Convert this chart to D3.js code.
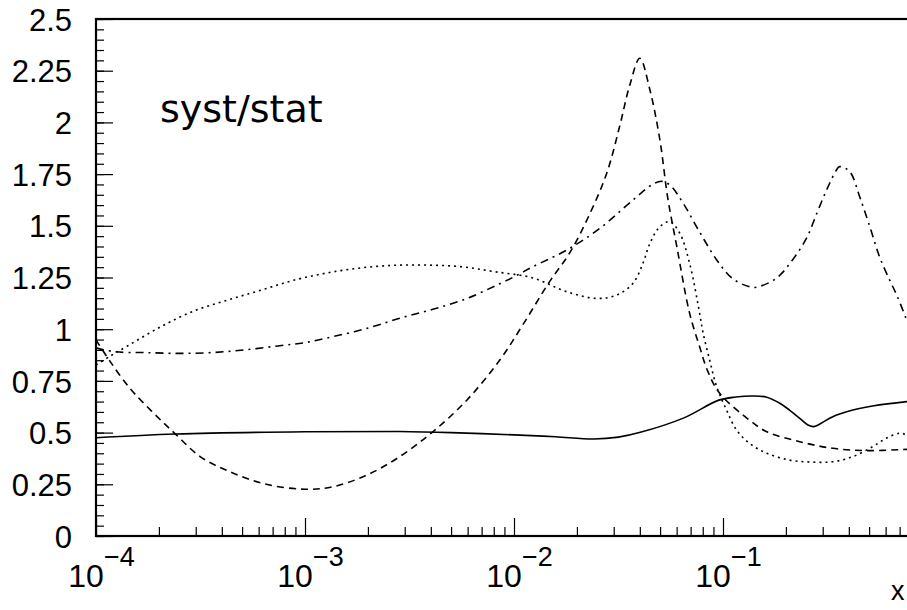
<!DOCTYPE html>
<html>
<head>
<meta charset="utf-8">
<script src="https://cdn.jsdelivr.net/npm/d3@7"></script>
<style>
  html, body { margin: 0; padding: 0; background: #fff; overflow: hidden; }
  svg { display: block; }
</style>
</head>
<body>
<div id="chart"></div>
<script>
// Data: [x, syst/stat]
const solid = [
  [1.00e-4, 0.475], [2.40e-4, 0.493], [1.00e-3, 0.504], [2.82e-3, 0.505], [5.01e-3, 0.500],
  [0.0107, 0.488], [0.0158, 0.480], [0.0240, 0.469], [0.0316, 0.478], [0.0398, 0.500],
  [0.0646, 0.570], [0.0955, 0.657], [0.115, 0.672], [0.140, 0.677], [0.162, 0.671],
  [0.187, 0.642], [0.208, 0.609], [0.233, 0.569], [0.255, 0.537], [0.272, 0.529],
  [0.295, 0.545], [0.335, 0.577], [0.418, 0.609], [0.520, 0.629], [0.757, 0.650], [0.8, 0.652]
];

const dashed = [
  [1.00e-4, 0.948], [1.17e-4, 0.843], [1.45e-4, 0.715], [1.74e-4, 0.630], [2.09e-4, 0.550],
  [2.40e-4, 0.493], [3.16e-4, 0.383], [4.37e-4, 0.311], [6.46e-4, 0.251], [1.00e-3, 0.226],
  [1.36e-3, 0.238], [1.98e-3, 0.295], [2.84e-3, 0.384], [4.09e-3, 0.504], [5.96e-3, 0.658],
  [8.55e-3, 0.851], [0.0110, 1.020], [0.0148, 1.230], [0.0185, 1.370], [0.0229, 1.552],
  [0.0278, 1.755], [0.0320, 1.980], [0.0358, 2.180], [0.0400, 2.310], [0.0447, 2.157],
  [0.0499, 1.915], [0.0543, 1.640], [0.0601, 1.400], [0.0692, 1.078], [0.0773, 0.915],
  [0.0843, 0.800], [0.0964, 0.690], [0.134, 0.560], [0.162, 0.504], [0.233, 0.456],
  [0.335, 0.424], [0.486, 0.413], [0.757, 0.419], [0.8, 0.420]
];

const dotted = [
  [1.00e-4, 0.827], [1.17e-4, 0.870], [1.42e-4, 0.920], [2.07e-4, 1.015], [2.97e-4, 1.090],
  [4.27e-4, 1.141], [6.21e-4, 1.190], [8.93e-4, 1.238], [1.29e-3, 1.273], [1.87e-3, 1.297],
  [2.69e-3, 1.309], [3.86e-3, 1.310], [5.62e-3, 1.302], [8.09e-3, 1.278], [0.0123, 1.248],
  [0.0179, 1.181], [0.0249, 1.149], [0.0310, 1.165], [0.0371, 1.222], [0.0414, 1.319],
  [0.0447, 1.415], [0.0499, 1.496], [0.0556, 1.520], [0.0621, 1.464], [0.0692, 1.319],
  [0.0773, 1.077], [0.0800, 0.990], [0.0863, 0.851], [0.0933, 0.722], [0.104, 0.609],
  [0.116, 0.513], [0.134, 0.448], [0.162, 0.400], [0.208, 0.367], [0.260, 0.358],
  [0.335, 0.359], [0.418, 0.384], [0.520, 0.432], [0.607, 0.474], [0.700, 0.497],
  [0.757, 0.490], [0.8, 0.488]
];

const dashDot = [
  [1.00e-4, 0.910], [1.23e-4, 0.891], [1.71e-4, 0.887], [2.46e-4, 0.883], [3.58e-4, 0.887],
  [5.15e-4, 0.900], [7.41e-4, 0.919], [1.00e-3, 0.935], [1.36e-3, 0.964], [1.98e-3, 1.004],
  [2.84e-3, 1.053], [4.09e-3, 1.096], [5.96e-3, 1.149], [8.55e-3, 1.220], [0.0103, 1.260],
  [0.0123, 1.302], [0.0179, 1.383], [0.0258, 1.488], [0.0371, 1.625], [0.0460, 1.700],
  [0.0510, 1.715], [0.0560, 1.695], [0.0644, 1.610], [0.0773, 1.470], [0.0933, 1.335],
  [0.111, 1.245], [0.134, 1.205], [0.145, 1.203], [0.180, 1.246], [0.215, 1.335],
  [0.251, 1.440], [0.281, 1.560], [0.313, 1.673], [0.349, 1.770], [0.361, 1.786],
  [0.404, 1.762], [0.451, 1.640], [0.504, 1.496], [0.561, 1.350], [0.627, 1.238],
  [0.678, 1.165], [0.757, 1.045], [0.8, 0.990]
];

const yMajor = [0, 0.25, 0.5, 0.75, 1, 1.25, 1.5, 1.75, 2, 2.25, 2.5];
const xMajor = [1e-4, 1e-3, 1e-2, 1e-1, 1];
const xExponents = ["\u22124", "\u22123", "\u22122", "\u22121"];

const series = [
  { data: solid, dash: null },
  { data: dashed, dash: "7,5" },
  { data: dotted, dash: "2,4" },
  { data: dashDot, dash: "8,5,2,5" }
];

// Layout
const width = 907;
const height = 610;
const plot = { left: 96, top: 19, right: 932, bottom: 536 };

const svg = d3.select("#chart")
  .append("svg")
  .attr("width", width)
  .attr("height", height);

const x = d3.scaleLog().domain([1e-4, 1]).range([plot.left, plot.right]);
const y = d3.scaleLinear().domain([0, 2.5]).range([plot.bottom, plot.top]);

svg.append("clipPath")
  .attr("id", "plot-clip")
  .append("rect")
  .attr("x", plot.left)
  .attr("y", plot.top)
  .attr("width", plot.right - plot.left)
  .attr("height", plot.bottom - plot.top);

// minor ticks
const yMinor = d3.range(0, 2.5001, 0.05).map(v => +v.toFixed(2));
const xMinor = [];
xMajor.slice(0, -1).forEach(d => {
  for (let k = 2; k <= 9; k++) xMinor.push(d * k);
});

// y axis
const yAxisMinor = svg.append("g")
  .attr("transform", `translate(${plot.left},0)`)
  .call(d3.axisLeft(y).tickValues(yMinor).tickSize(-8).tickFormat(""));

const yAxis = svg.append("g")
  .attr("transform", `translate(${plot.left},0)`)
  .call(d3.axisLeft(y).tickValues(yMajor).tickSize(-17).tickPadding(24)
    .tickFormat(d => String(d)));

yAxis.selectAll("text")
  .style("font-family", "'Liberation Sans', Arial, sans-serif")
  .style("font-size", "31px")
  .attr("fill", "#000")
  .attr("dy", "0.36em");

// x axis
const xAxisMinor = svg.append("g")
  .attr("transform", `translate(0,${plot.bottom})`)
  .call(d3.axisBottom(x).tickValues(xMinor).tickSize(-9).tickFormat(""));

const xAxis = svg.append("g")
  .attr("transform", `translate(0,${plot.bottom})`)
  .call(d3.axisBottom(x).tickValues(xMajor).tickSize(-18).tickFormat(""));

// decade labels, the one at x = 1 lies outside the picture
xAxis.selectAll(".tick")
  .filter((d, i) => i < xExponents.length)
  .each(function(d, i) {
    const t = d3.select(this).append("text")
      .attr("x", 5)
      .attr("y", 51)
      .attr("text-anchor", "middle")
      .attr("fill", "#000")
      .style("font-family", "'Liberation Sans', Arial, sans-serif")
      .style("font-size", "32px");
    t.append("tspan").text("10");
    t.append("tspan")
      .attr("dy", -21)
      .style("font-size", "27px")
      .text(xExponents[i]);
  });

[yAxisMinor, yAxis, xAxisMinor, xAxis].forEach(g => {
  g.select(".domain").remove();
  g.selectAll("line").attr("stroke", "#000").attr("stroke-width", 1.2);
});

// curves
const line = d3.line()
  .x(d => x(d[0]))
  .y(d => y(d[1]))
  .curve(d3.curveCatmullRom.alpha(0.5));

svg.append("g")
  .attr("clip-path", "url(#plot-clip)")
  .selectAll("path")
  .data(series)
  .enter()
  .append("path")
  .attr("d", d => line(d.data))
  .attr("fill", "none")
  .attr("stroke", "#000")
  .attr("stroke-width", 1.6)
  .attr("stroke-dasharray", d => d.dash);

// frame
svg.append("rect")
  .attr("x", plot.left)
  .attr("y", plot.top)
  .attr("width", plot.right - plot.left)
  .attr("height", plot.bottom - plot.top)
  .attr("fill", "none")
  .attr("stroke", "#000")
  .attr("stroke-width", 2.2);

// texts
svg.append("text")
  .attr("x", 160)
  .attr("y", 122)
  .style("font-family", "'DejaVu Sans', sans-serif")
  .style("font-size", "38px")
  .text("syst/stat");

svg.append("text")
  .attr("x", 891)
  .attr("y", 600)
  .style("font-family", "'Liberation Sans', Arial, sans-serif")
  .style("font-size", "27px")
  .text("x");
</script>
</body>
</html>
